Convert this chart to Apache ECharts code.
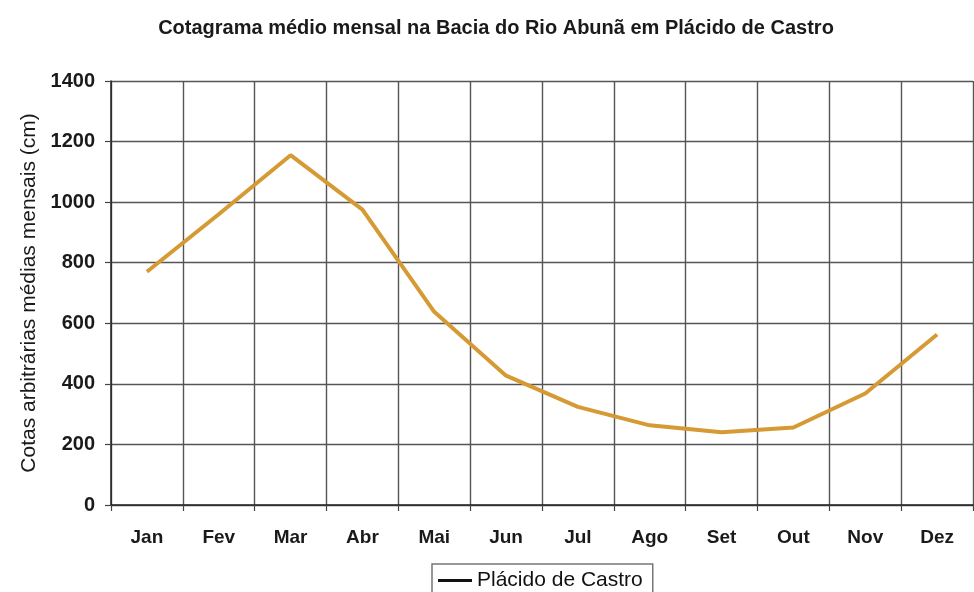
<!DOCTYPE html>
<html>
<head>
<meta charset="utf-8">
<script src="https://cdn.jsdelivr.net/npm/echarts@6/dist/echarts.min.js"></script>
<style>
html, body { margin: 0; padding: 0; background: #fff; }
#chart { width: 974px; height: 592px; }
</style>
</head>
<body>
<div id="chart"></div>
<script>
var months = ['Jan', 'Fev', 'Mar', 'Abr', 'Mai', 'Jun', 'Jul', 'Ago', 'Set', 'Out', 'Nov', 'Dez'];
var cotas = [770, 960, 1155, 975, 638, 427, 324, 263, 240, 256, 368, 563];
var seriesName = 'Plácido de Castro';

var chart = echarts.init(document.getElementById('chart'));
var font = 'Liberation Sans, Arial, sans-serif';
chart.setOption({
	animation: false,
	title: {
		text: 'Cotagrama médio mensal na Bacia do Rio Abunã em Plácido de Castro',
		left: 491, top: 13, textAlign: 'center',
		textStyle: { fontFamily: font, fontSize: 20, fontWeight: 'bold', color: '#1a1a1a' }
	},
	legend: {
		data: [seriesName], top: 564, left: 432,
		borderColor: '#777', borderWidth: 1.5, padding: [6, 10, 10, 6],
		itemWidth: 34, itemHeight: 3, icon: 'rect', itemGap: 5,
		itemStyle: { color: '#111' },
		textStyle: { fontFamily: font, fontSize: 21, color: '#111' }
	},
	grid: { left: 111, right: 1, top: 81, bottom: 87 },
	xAxis: {
		type: 'category', data: months, boundaryGap: true,
		axisLine: { lineStyle: { color: '#222', width: 1.5 } },
		axisTick: { show: true, length: 6, lineStyle: { color: '#444', width: 1.2 } },
		splitLine: { show: true, lineStyle: { color: '#555', width: 1.4 } },
		axisLabel: { fontFamily: font, fontSize: 19, fontWeight: 'bold', color: '#1a1a1a', margin: 23 }
	},
	yAxis: {
		type: 'value', min: 0, max: 1400, interval: 200,
		name: 'Cotas arbitrárias médias mensais (cm)', nameLocation: 'middle', nameGap: 71,
		nameTextStyle: { fontFamily: font, fontSize: 21, color: '#1a1a1a' },
		axisLine: { show: true, lineStyle: { color: '#222', width: 1.5 } },
		axisTick: { show: true, length: 6, lineStyle: { color: '#444', width: 1.2 } },
		splitLine: { lineStyle: { color: '#555', width: 1.4 } },
		axisLabel: { fontFamily: font, fontSize: 20, fontWeight: 'bold', color: '#1a1a1a', margin: 16,
			formatter: function (v) { return String(v); } }
	},
	series: [{
		name: seriesName, type: 'line', data: cotas,
		symbol: 'none',
		lineStyle: { color: '#D69A34', width: 4 },
		itemStyle: { color: '#D69A34' }
	}]
});
</script>
</body>
</html>
